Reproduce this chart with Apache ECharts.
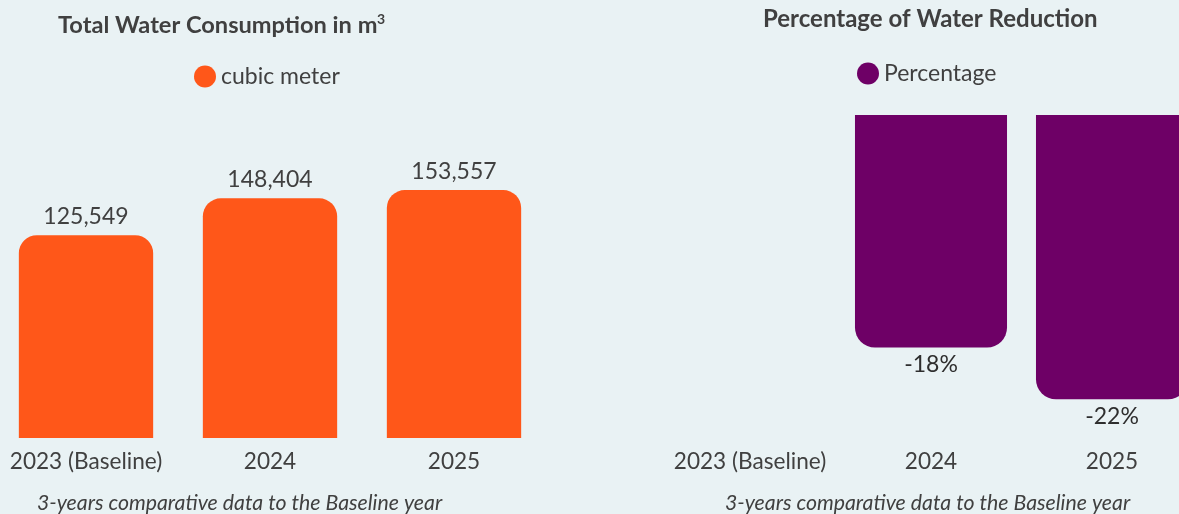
<!DOCTYPE html>
<html>
<head>
<meta charset="utf-8">
<script src="https://cdn.jsdelivr.net/npm/echarts@6/dist/echarts.min.js"></script>
<style>
  html, body { margin: 0; padding: 0; background: #e9f2f4; overflow: hidden; width: 1179px; height: 514px; }
  #chart { position: absolute; left: -6px; top: 0; width: 1216px; height: 514px; }
</style>
</head>
<body>
<div id="chart"></div>
<script>
// Categories shared by both panels
const years = ['2023 (Baseline)', '2024', '2025'];

// Total water consumption (m³)
const consumption = [125549, 148404, 153557];

// Reduction relative to the baseline year (%)
const reduction = [null, -18, -22];

const FONT = 'Lato, "Open Sans", sans-serif';
const TEXT = '#404040';
const ORANGE = '#ff5719';
const PURPLE = '#6e0066';
// the canvas starts 6px left of the page edge
const OX = 6;

const chart = echarts.init(document.getElementById('chart'), null, { renderer: 'canvas' });

const fmtThousands = v => v.toLocaleString('en-US');

chart.setOption({
  backgroundColor: '#e9f2f4',
  animation: false,
  textStyle: { fontFamily: FONT },
  graphic: [
    { type: 'text', left: 58 + OX, top: 13, style: { text: 'Total Water Consumption in m', font: 'bold 23.6px ' + FONT, fill: TEXT } },
    { type: 'text', left: 377 + OX, top: 12, style: { text: '3', font: 'bold 14px ' + FONT, fill: TEXT } },
    { type: 'text', left: 763 + OX, top: 7, style: { text: 'Percentage of Water Reduction', font: 'bold 24px ' + FONT, fill: TEXT } },
    { type: 'text', left: 37 + OX, top: 493, style: { text: '3-years comparative data to the Baseline year', font: 'italic 21.3px ' + FONT, fill: TEXT } },
    { type: 'text', left: 725 + OX, top: 493, style: { text: '3-years comparative data to the Baseline year', font: 'italic 21.3px ' + FONT, fill: TEXT } }
  ],
  legend: [
    {
      data: ['cubic meter'], left: 189 + OX, top: 60, icon: 'circle',
      itemWidth: 22, itemHeight: 22, itemGap: 10,
      textStyle: { fontSize: 23, color: TEXT, fontFamily: FONT }
    },
    {
      data: ['Percentage'], left: 852 + OX, top: 57, icon: 'circle',
      itemWidth: 22, itemHeight: 22, itemGap: 10,
      textStyle: { fontSize: 23, color: TEXT, fontFamily: FONT }
    }
  ],
  grid: [
    { left: 0, width: 552, top: 115, height: 323 },
    { left: 659.5 + OX, width: 543, top: 115, height: 323 }
  ],
  xAxis: [
    {
      type: 'category', gridIndex: 0, data: years,
      axisLine: { show: false }, axisTick: { show: false },
      axisLabel: { interval: 0, fontSize: 22.6, color: TEXT, margin: 12, fontFamily: FONT }
    },
    {
      type: 'category', gridIndex: 1, data: years, position: 'bottom',
      axisLine: { show: false }, axisTick: { show: false },
      axisLabel: { interval: 0, fontSize: 22.6, color: TEXT, margin: 12, fontFamily: FONT }
    }
  ],
  yAxis: [
    { type: 'value', gridIndex: 0, min: 0, max: 200000, show: false, splitLine: { show: false } },
    { type: 'value', gridIndex: 1, min: -25, max: 0, show: false, splitLine: { show: false } }
  ],
  series: [
    {
      name: 'cubic meter', type: 'bar', xAxisIndex: 0, yAxisIndex: 0,
      data: consumption, barWidth: '73%',
      itemStyle: { color: ORANGE, borderRadius: [18, 18, 0, 0] },
      label: {
        show: true, position: 'top', distance: 7, fontSize: 23, color: TEXT, fontFamily: FONT,
        formatter: p => fmtThousands(p.value)
      }
    },
    {
      name: 'Percentage', type: 'bar', xAxisIndex: 1, yAxisIndex: 1,
      data: reduction, barWidth: '84%',
      itemStyle: { color: PURPLE, borderRadius: [0, 0, 20, 20] },
      label: {
        show: true, position: 'bottom', distance: 6, fontSize: 23, color: '#2e2e2e', fontFamily: FONT,
        formatter: p => p.value + '%'
      }
    }
  ]
});
</script>
</body>
</html>
